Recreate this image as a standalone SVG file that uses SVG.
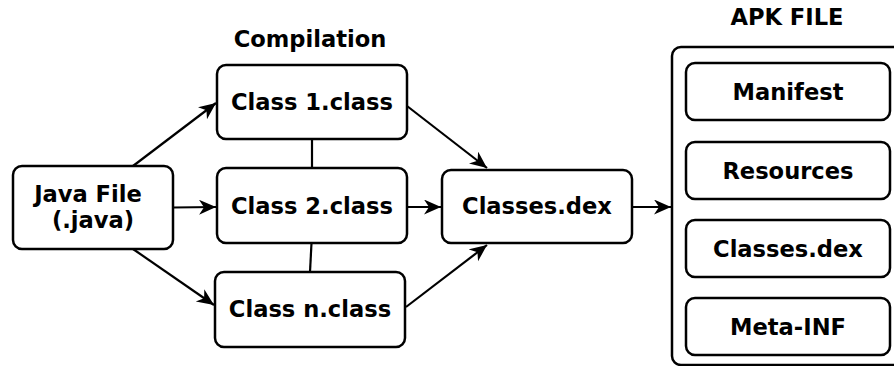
<svg xmlns="http://www.w3.org/2000/svg" width="894" height="366" viewBox="0 0 894 366">
<style>
.box{fill:#fff;stroke:#000;stroke-width:2.5}
.t{font-family:"DejaVu Sans",sans-serif;font-weight:bold;font-size:22.6px;fill:#000;text-anchor:middle}
.c{stroke:#000;stroke-width:2.2;fill:none}
.a{marker-end:url(#ah)}
</style>
<defs>
<marker id="ah" markerUnits="userSpaceOnUse" markerWidth="20" markerHeight="16" refX="17" refY="7.5" orient="auto">
<path d="M0,0 L17,7.5 L0,15 L5,7.5 z" fill="#000"/>
</marker>
</defs>
<rect width="894" height="366" fill="#fff"/>
<text class="t" x="310" y="47">Compilation</text>
<text class="t" x="787" y="25">APK FILE</text>
<g id="connectors">
<line class="c a" x1="133" y1="166" x2="216" y2="103"/>
<line class="c a" x1="173" y1="207.5" x2="216" y2="207"/>
<line class="c a" x1="133" y1="249" x2="214" y2="305"/>
<line class="c" x1="312" y1="139" x2="312" y2="168"/>
<line class="c" x1="311.5" y1="243" x2="310" y2="272"/>
<line class="c a" x1="407" y1="106" x2="487" y2="168"/>
<line class="c a" x1="407" y1="207" x2="441" y2="207"/>
<line class="c a" x1="406" y1="307" x2="487" y2="245"/>
<line class="c a" x1="632" y1="207" x2="671" y2="207"/>
</g>
<g id="java"><rect class="box" x="13" y="166" width="160" height="83" rx="9"/><text class="t" x="88" y="202">Java File</text><text class="t" x="93" y="228">(.java)</text></g>
<g id="class1"><rect class="box" x="217" y="65" width="190" height="74" rx="9"/><text class="t" x="312" y="110">Class 1.class</text></g>
<g id="class2"><rect class="box" x="217" y="168" width="190" height="75" rx="9"/><text class="t" x="312" y="214">Class 2.class</text></g>
<g id="classn"><rect class="box" x="215" y="272" width="190" height="75" rx="9"/><text class="t" x="310" y="317">Class n.class</text></g>
<g id="dex"><rect class="box" x="442" y="170" width="190" height="73" rx="9"/><text class="t" x="537" y="214">Classes.dex</text></g>
<g id="apk">
<rect class="box" x="672" y="47" width="240" height="318" rx="9"/>
<g id="manifest"><rect class="box" x="686" y="63" width="204" height="57" rx="9"/><text class="t" x="788" y="100">Manifest</text></g>
<g id="resources"><rect class="box" x="686" y="142" width="204" height="57" rx="9"/><text class="t" x="788" y="179">Resources</text></g>
<g id="classesdex"><rect class="box" x="686" y="220" width="204" height="57" rx="9"/><text class="t" x="788" y="257">Classes.dex</text></g>
<g id="metainf"><rect class="box" x="686" y="298" width="204" height="57" rx="9"/><text class="t" x="788" y="335">Meta-INF</text></g>
</g>
</svg>
